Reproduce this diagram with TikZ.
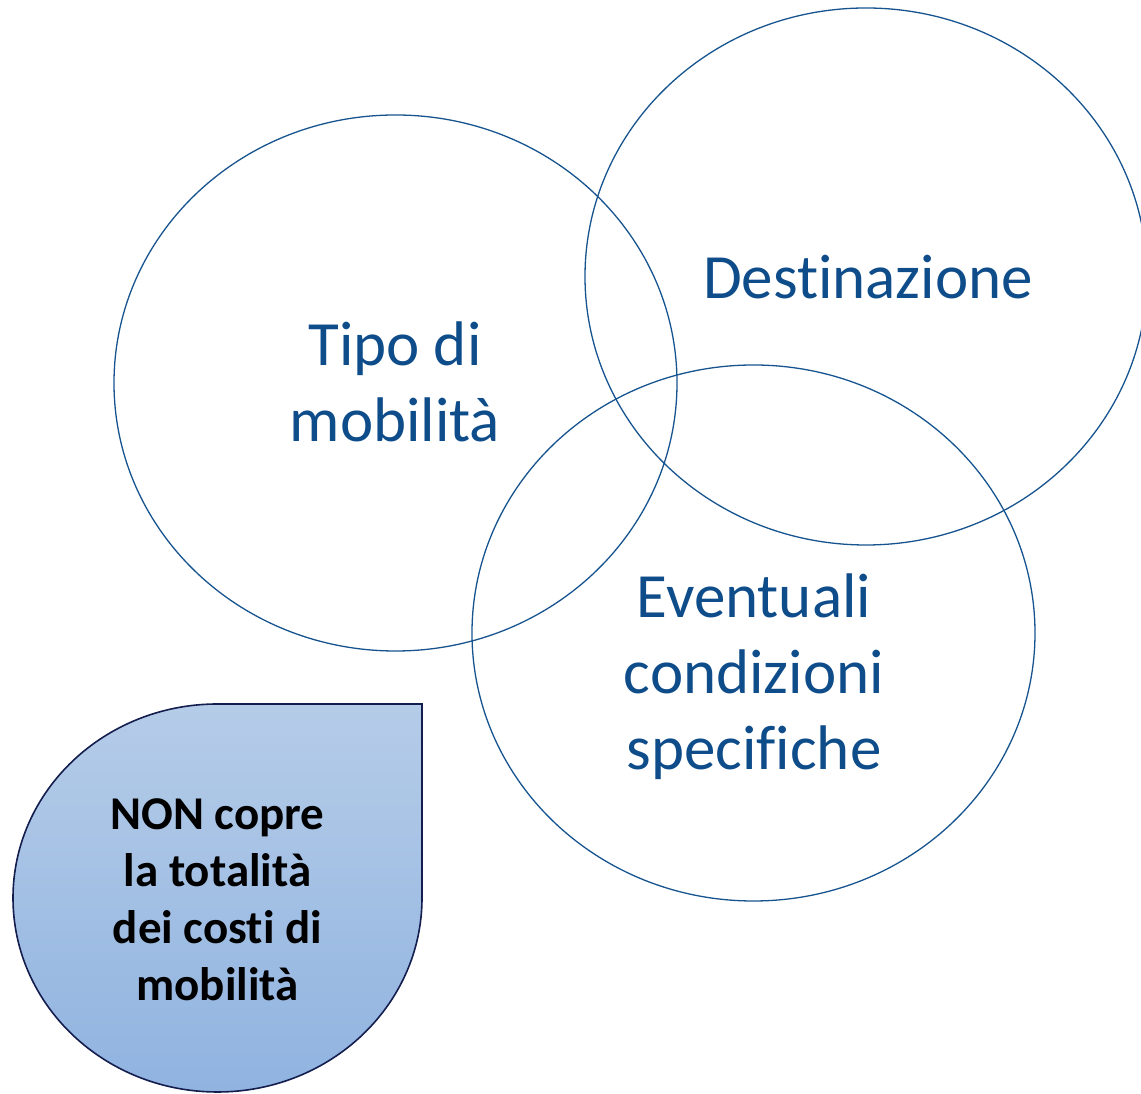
\documentclass[tikz,border=0pt]{standalone}
\usepackage{fontspec}
\setmainfont[Ligatures={NoCommon}]{Carlito}
\usetikzlibrary{shapes.geometric}
\definecolor{txtblue}{HTML}{0E4C8A}
\definecolor{lineblue}{HTML}{17548F}
\definecolor{dropTop}{HTML}{B5CCE8}
\definecolor{dropBot}{HTML}{90B3E0}
\definecolor{dropLine}{HTML}{141E4E}
\tikzset{
  venn/.style={draw=lineblue, line width=1.3pt, ellipse, inner sep=0pt},
  venntext/.style={text=txtblue, align=center, font=\fontsize{63}{76}\selectfont},
  droptext/.style={text=black, align=center, font=\bfseries\fontsize{47}{57}\selectfont},
}
\begin{document}
\begin{tikzpicture}[x=1pt,y=1pt]
\useasboundingbox (0,0) rectangle (1141,1094);
\clip (0,0) rectangle (1141,1094);
\node[venn, minimum width=563pt, minimum height=536pt] (tipo) at (395.5,711) {};
\node[venn, minimum width=562pt, minimum height=537pt] (dest) at (866,817.5) {};
\node[venn, minimum width=563pt, minimum height=536pt] (even) at (753.5,461) {};
\node[venntext] (ttipo) at (395,712) {Tipo di\\mobilità};
\node[venntext] (tdest) at (868,817) {Destinazione};
\node[venntext] (teven) at (754,417) {Eventuali\\condizioni\\specifiche};
\path[draw=dropLine, line width=1.6pt, top color=dropTop, bottom color=dropBot]
  (217.5,390) -- (422,390) -- (422,196)
  arc[start angle=0, end angle=-270, x radius=204.5, y radius=194] -- cycle;
\node[droptext] (tdrop) at (217.5,194) {NON copre\\la totalità\\dei costi di\\mobilità};
\end{tikzpicture}
\end{document}
